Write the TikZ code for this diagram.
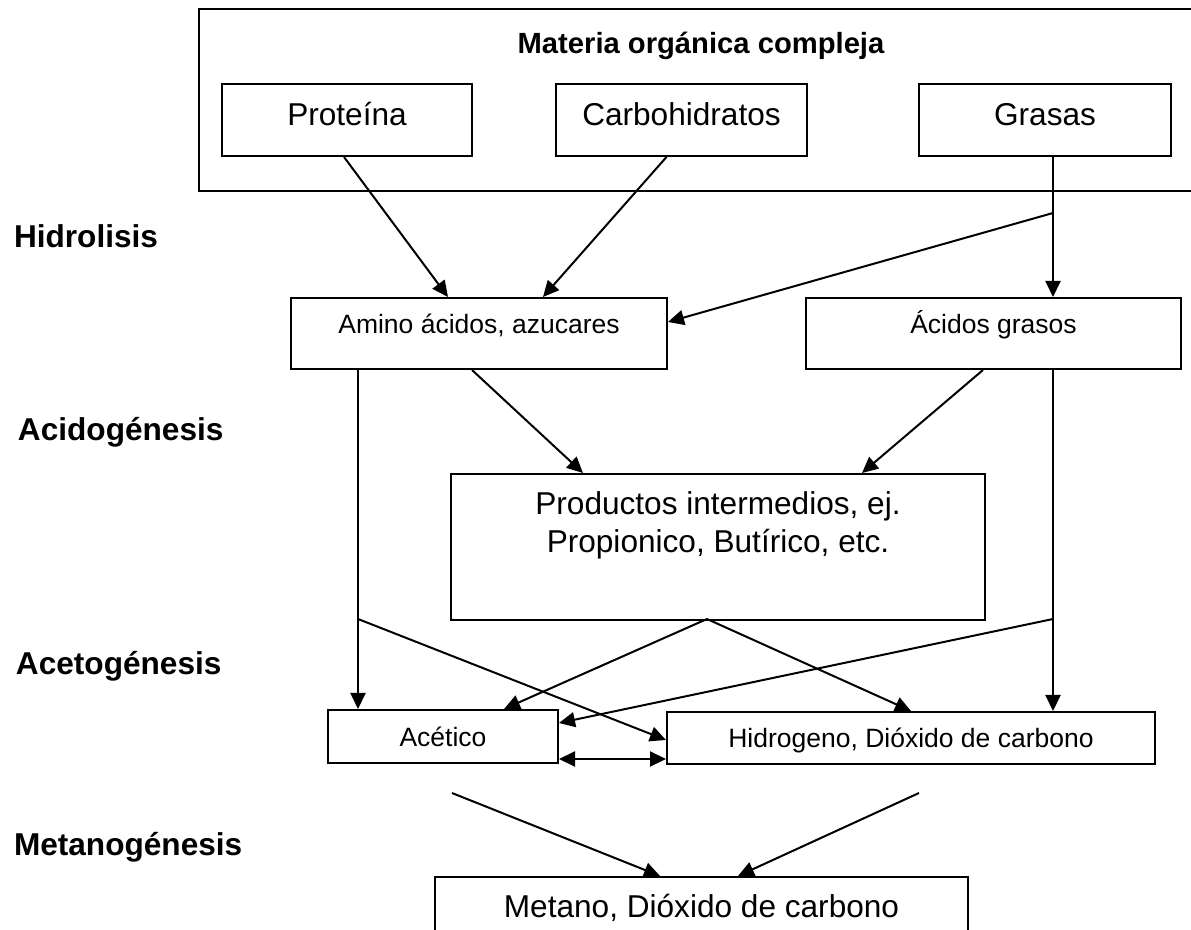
\documentclass[tikz,border=0pt]{standalone}
\usepackage{fontspec}
\setmainfont{Liberation Sans}
\usetikzlibrary{calc,arrows.meta}
\newcommand{\grande}{\fontsize{15.8}{19}\selectfont}
\newcommand{\chico}{\fontsize{13.25}{16}\selectfont}
\newcommand{\titulo}{\fontsize{14.6}{17}\selectfont\bfseries}
\tikzset{
  caja/.style={draw, inner xsep=0pt, inner ysep=0pt, align=center, anchor=north west},
  flecha/.style={-{Triangle[length=8pt,width=7.5pt]}},
  doble/.style={{Triangle[length=8pt,width=7.5pt]}-{Triangle[length=8pt,width=7.5pt]}},
  etapa/.style={anchor=base west, inner sep=0pt, font=\grande\bfseries}
}

\begin{document}
\begin{tikzpicture}[x=0.5pt, y=-0.5pt, line width=1pt]
  \clip (0,0) rectangle (1191,930);

  % materia orgánica y sus tres componentes
  \node[caja, minimum width=502pt, text height=22.5pt, text depth=68.5pt, font=\titulo] (materia) at (198,8) {Materia orgánica compleja};
  \node[caja, minimum width=125pt, text height=21pt, text depth=15pt, font=\grande] (prot) at (221,83) {Proteína};
  \node[caja, minimum width=125.5pt, text height=21pt, text depth=15pt, font=\grande] (carb) at (555,83) {Carbohidratos};
  \node[caja, minimum width=126pt, text height=21pt, text depth=15pt, font=\grande] (gras) at (918,83) {Grasas};

  % productos de la hidrólisis
  \node[caja, minimum width=188pt, text height=18pt, text depth=17.5pt, font=\chico] (amino) at (290,297) {Amino ácidos, azucares};
  \node[caja, minimum width=187.5pt, text height=18pt, text depth=17.5pt, font=\chico] (acidos) at (805,297) {Ácidos grasos};
  \node[caja, minimum width=267pt, text height=39.5pt, text depth=33.5pt, font=\grande] (prod) at (450,473) {Productos intermedios, ej.\\Propionico, Butírico, etc.};
  \node[caja, minimum width=115pt, text height=18.5pt, text depth=8pt, font=\chico] (acet) at (327,709) {Acético};
  \node[caja, minimum width=244pt, text height=18pt, text depth=8pt, font=\chico] (hidro) at (666,711) {Hidrogeno, Dióxido de carbono};
  \node[caja, minimum width=266.5pt, text height=20.5pt, text depth=17pt, font=\grande] (met) at (434,876) {Metano, Dióxido de carbono};

  % etapas
  \node[etapa] (hid) at (13,248) {Hidrolisis};
  \node[etapa] (acid) at (17,441) {Acidogénesis};
  \node[etapa] (aceto) at (15,675) {Acetogénesis};
  \node[etapa] (meta) at (13,856) {Metanogénesis};

  % puntos de partida libres
  \coordinate (jg) at (1053,213);
  \coordinate (jl) at (358,619);
  \coordinate (jr) at (1053,619);
  \coordinate (jp) at (707,619);
  \coordinate (ma) at (452,793);
  \coordinate (mb) at (919,793);

  % hidrólisis
  \draw[flecha] ($(prot.south)+(-3,0)$) -- ($(amino.north west)+(158,0)$);
  \draw[flecha] ($(carb.south)+(-15,0)$) -- ($(amino.north west)+(253,0)$);
  \draw[flecha] (jg |- gras.south) -- (jg |- acidos.north);
  \draw[flecha] (jg) -- ($(amino.north east)+(0,25)$);

  % acidogénesis
  \draw[flecha] ($(amino.south west)+(182,0)$) -- ($(prod.north west)+(133,0)$);
  \draw[flecha] ($(acidos.south west)+(178,0)$) -- ($(prod.north west)+(412,0)$);
  \draw[flecha] (jl |- amino.south) -- ($(acet.north west)+(31,0)$);
  \draw[flecha] (jr |- acidos.south) -- (jr |- hidro.north);

  % acetogénesis
  \draw[flecha] (jl) -- ($(hidro.north west)+(0,29)$);
  \draw[flecha] (jr) -- ($(acet.north east)+(0,14)$);
  \draw[flecha] (jp) -- ($(acet.north west)+(177,0)$);
  \draw[flecha] (jp) -- (hidro.north);
  \draw[doble] ($(acet.south east)+(0,-5)$) -- ($(hidro.south west)+(0,-6)$);

  % metanogénesis
  \draw[flecha] (ma) -- ($(met.north west)+(226,0)$);
  \draw[flecha] (mb) -- ($(met.north west)+(304,0)$);
\end{tikzpicture}
\end{document}
